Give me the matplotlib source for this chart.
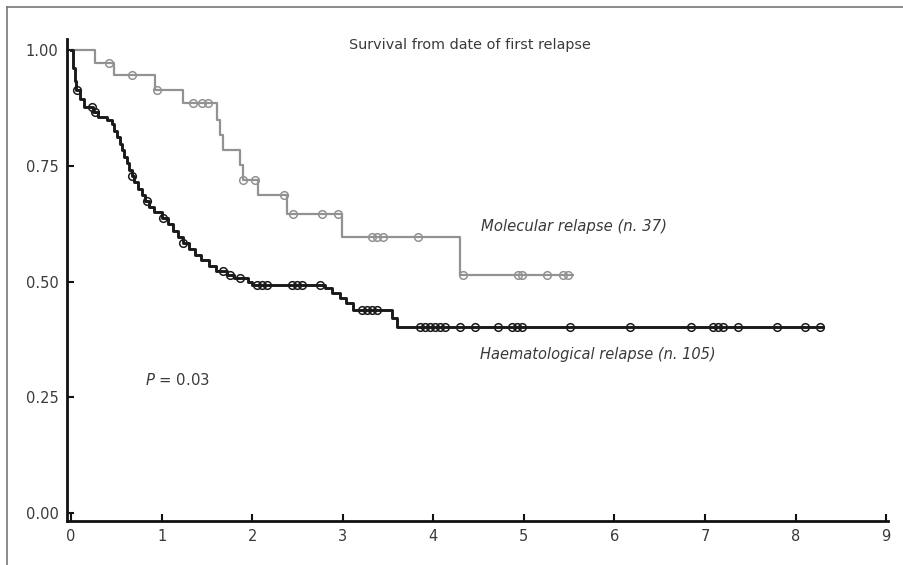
"""Kaplan-Meier survival from date of first relapse, molecular vs haematological."""

import matplotlib

matplotlib.use("Agg")
import matplotlib.pyplot as plt
import numpy as np
from matplotlib.lines import Line2D

# Haematological relapse (n. 105): event times (years) and survival after each step
HAEM_TIMES = [
    0.00, 0.02, 0.04, 0.06, 0.10, 0.14, 0.24, 0.30, 0.40, 0.45, 0.48, 0.51,
    0.54, 0.56, 0.59, 0.62, 0.64, 0.67, 0.70, 0.74, 0.78, 0.82, 0.86, 0.92,
    1.00, 1.07, 1.13, 1.18, 1.24, 1.30, 1.37, 1.44, 1.52, 1.60, 1.72, 1.80,
    1.95, 2.00, 2.80, 2.88, 2.97, 3.04, 3.11, 3.54, 3.60,
]
HAEM_SURV = [
    1.000, 0.962, 0.933, 0.914, 0.895, 0.877, 0.866, 0.855, 0.850, 0.840,
    0.826, 0.812, 0.798, 0.784, 0.770, 0.756, 0.742, 0.728, 0.715, 0.701,
    0.688, 0.675, 0.662, 0.650, 0.637, 0.624, 0.610, 0.596, 0.583, 0.571,
    0.558, 0.546, 0.533, 0.522, 0.515, 0.508, 0.500, 0.493, 0.486, 0.475,
    0.464, 0.453, 0.438, 0.421, 0.402,
]
HAEM_END = 8.30
HAEM_CENSORED = [
    0.07, 0.23, 0.27, 0.67, 0.84, 1.02, 1.24, 1.68, 1.76, 1.87, 2.05, 2.11,
    2.16, 2.44, 2.49, 2.55, 2.75, 3.21, 3.27, 3.32, 3.38, 3.85, 3.91, 3.96,
    4.02, 4.07, 4.13, 4.29, 4.46, 4.71, 4.87, 4.92, 4.98, 5.51, 6.17, 6.85,
    7.09, 7.14, 7.20, 7.36, 7.79, 8.10, 8.27,
]

# Molecular relapse (n. 37)
MOL_TIMES = [0.00, 0.26, 0.47, 0.93, 1.24, 1.61, 1.65, 1.68, 1.87, 1.90,
             2.06, 2.38, 2.99, 4.29]
MOL_SURV = [1.000, 0.972, 0.946, 0.913, 0.885, 0.849, 0.816, 0.784, 0.752,
            0.720, 0.687, 0.646, 0.596, 0.514]
MOL_END = 5.54
MOL_CENSORED = [0.42, 0.67, 0.95, 1.35, 1.45, 1.51, 1.90, 2.03, 2.35, 2.45,
                2.77, 2.95, 3.32, 3.38, 3.44, 3.83, 4.33, 4.93, 4.98, 5.26,
                5.43, 5.49]

X_TICKS = list(range(0, 10))
Y_TICKS = [0.0, 0.25, 0.5, 0.75, 1.0]
Y_TICK_LABELS = ["0.00", "0.25", "0.50", "0.75", "1.00"]

HAEM_COLOR = "#1a1a1a"
MOL_COLOR = "#929292"
TEXT_COLOR = "#3a3a3a"


def step_value(times, surv, t):
    idx = np.searchsorted(np.asarray(times), t, side="right") - 1
    return np.asarray(surv)[idx]


def draw_curve(ax, times, surv, end, censored, color, lw):
    xs = list(times) + [end]
    ys = list(surv) + [surv[-1]]
    ax.step(xs, ys, where="post", color=color, linewidth=lw, zorder=3)
    cy = [step_value(times, surv, t) for t in censored]
    ax.plot(censored, cy, linestyle="none", marker="o", markersize=5.5,
            fillstyle="none", markeredgecolor=color, markeredgewidth=1.1,
            zorder=4)


fig = plt.figure(figsize=(9.04, 5.65), dpi=100)
fig.patch.set_facecolor("white")

# thin frame around the figure (top and left sides visible)
fig.add_artist(Line2D([7 / 904, 1.0], [1 - 7 / 565, 1 - 7 / 565],
                      transform=fig.transFigure, color="#777777", linewidth=1.2))
fig.add_artist(Line2D([7 / 904, 7 / 904], [0.0, 1 - 7 / 565],
                      transform=fig.transFigure, color="#777777", linewidth=1.2))

ax = fig.add_axes([67 / 904, 44 / 565, (888 - 67) / 904, (521 - 39) / 565])
ax.set_xlim(-0.044, 9.02)
ax.set_ylim(-0.017, 1.024)

draw_curve(ax, MOL_TIMES, MOL_SURV, MOL_END, MOL_CENSORED, MOL_COLOR, 1.6)
draw_curve(ax, HAEM_TIMES, HAEM_SURV, HAEM_END, HAEM_CENSORED, HAEM_COLOR, 2.1)

for side in ("top", "right"):
    ax.spines[side].set_visible(False)
for side in ("left", "bottom"):
    ax.spines[side].set_linewidth(2.0)
    ax.spines[side].set_color("#111111")

ax.set_xticks(X_TICKS)
ax.set_yticks(Y_TICKS)
ax.set_yticklabels(Y_TICK_LABELS)
ax.tick_params(direction="in", length=5, width=1.5, colors="#111111",
               labelcolor=TEXT_COLOR, labelsize=10.5, pad=6)

fig.text(470 / 904, 1 - 45 / 565, "Survival from date of first relapse",
         ha="center", va="center", fontsize=10.4, color=TEXT_COLOR)
fig.text(481 / 904, 1 - 226 / 565, "Molecular relapse (n. 37)",
         ha="left", va="center", fontsize=10.7, style="italic", color=TEXT_COLOR)
fig.text(480 / 904, 1 - 355 / 565, "Haematological relapse (n. 105)",
         ha="left", va="center", fontsize=10.5, style="italic", color=TEXT_COLOR)
fig.text(145 / 904, 1 - 380 / 565, r"$P$ = 0.03",
         ha="left", va="center", fontsize=10.7, color=TEXT_COLOR)

fig.savefig("out.png", dpi=100)
